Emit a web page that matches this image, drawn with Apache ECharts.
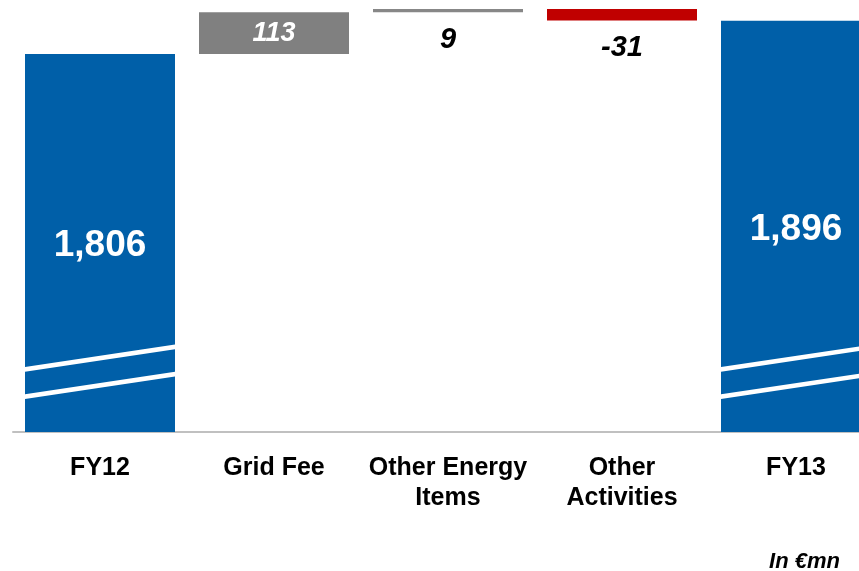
<!DOCTYPE html>
<html>
<head>
<meta charset="utf-8">
<script src="https://cdn.jsdelivr.net/npm/echarts@6/dist/echarts.min.js"></script>
<style>
html,body{margin:0;padding:0;background:#fff;}
#main{width:859px;height:571px;}
</style>
</head>
<body>
<div id="main"></div>
<script>
// ---- data ----
var categories = ['FY12', 'Grid Fee', 'Other Energy\nItems', 'Other\nActivities', 'FY13'];
var changes = [1806, 113, 9, -31, 1896];      // values shown on the chart
var isTotal = [true, false, false, false, true];
var unitNote = 'In €mn';

// ---- build waterfall ----
var base = [], visible = [];
var running = 0;
for (var i = 0; i < changes.length; i++) {
  if (isTotal[i]) {
    base.push(0); visible.push(changes[i]); running = changes[i];
  } else if (changes[i] >= 0) {
    base.push(running); visible.push(changes[i]); running += changes[i];
  } else {
    running += changes[i]; base.push(running); visible.push(-changes[i]);
  }
}
function fmt(v) { return String(v).replace(/\B(?=(\d{3})+(?!\d))/g, ','); }

var colors = ['#005FA8', '#808080', '#878787', '#C00000', '#005FA8'];
var BAR_W = 150;

var visData = visible.map(function (v, i) {
  var item = { value: v, itemStyle: { color: colors[i] } };
  if (isTotal[i]) {
    item.label = { show: true, position: 'inside', offset: [0, 3], color: '#fff', fontSize: 37, fontWeight: 'bold',
      formatter: fmt(changes[i]) };
  } else if (i === 1) {
    item.label = { show: true, position: 'inside', color: '#fff', fontSize: 27, fontWeight: 'bold',
      fontStyle: 'italic', formatter: fmt(changes[i]) };
  } else {
    item.label = { show: true, position: 'bottom', distance: 13, color: '#000', fontSize: 29,
      fontWeight: 'bold', fontStyle: 'italic', formatter: fmt(changes[i]) };
  }
  return item;
});

// break stripes on total bars (decoration)
var totalIdx = [];
isTotal.forEach(function (t, i) { if (t) totalIdx.push([i]); });
var stripes = [[950, 1011], [876, 937]];

var chart = echarts.init(document.getElementById('main'), null, { renderer: 'canvas' });
chart.setOption({
  animation: false,
  textStyle: { fontFamily: 'Liberation Sans, Arial, sans-serif' },
  grid: { left: 13, top: 9, width: 870, height: 423, containLabel: false, outerBoundsMode: 'none' },
  xAxis: {
    type: 'category',
    data: categories,
    axisLine: { show: true, lineStyle: { color: '#C0C0C0', width: 2 } },
    axisTick: { show: false },
    axisLabel: { interval: 0, margin: 21, fontSize: 25, fontWeight: 'bold', color: '#000', lineHeight: 30 }
  },
  yAxis: {
    type: 'value', min: 780, max: 1928,
    show: false, splitLine: { show: false }
  },
  series: [
    {
      type: 'bar', stack: 'wf', data: base, barWidth: BAR_W,
      itemStyle: { color: 'transparent' }, silent: true
    },
    {
      type: 'bar', stack: 'wf', data: visData, barWidth: BAR_W
    },
    {
      type: 'custom', data: totalIdx, z: 5, silent: true,
      renderItem: function (params, api) {
        var idx = api.value(0);
        var children = stripes.map(function (s) {
          var pL = api.coord([idx, s[0]]);
          var pR = api.coord([idx, s[1]]);
          var x0 = pL[0] - BAR_W / 2, x1 = pL[0] + BAR_W / 2;
          var h = 2.3;
          return {
            type: 'polygon',
            shape: { points: [[x0, pL[1] - h], [x1, pR[1] - h], [x1, pR[1] + h], [x0, pL[1] + h]] },
            style: { fill: '#fff' }
          };
        });
        return { type: 'group', children: children };
      }
    }
  ],
  graphic: [{
    type: 'text', right: 19, top: 551,
    style: { text: unitNote, font: 'italic bold 22px "Liberation Sans", Arial, sans-serif', fill: '#000' }
  }]
});
</script>
</body>
</html>
